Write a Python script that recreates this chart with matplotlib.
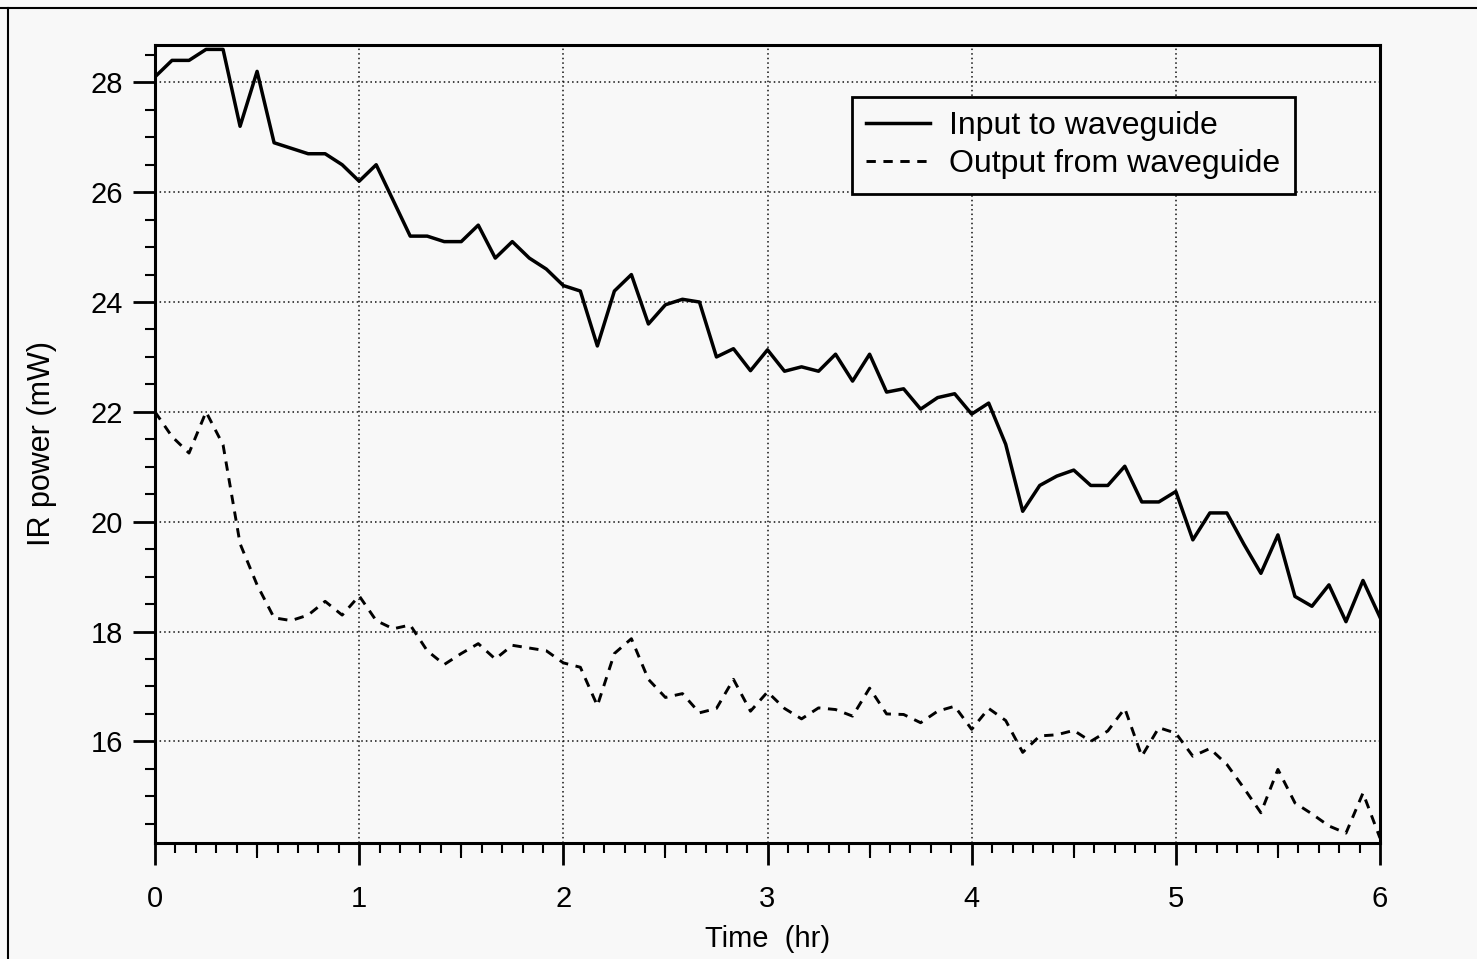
import matplotlib
matplotlib.use("Agg")
import matplotlib.pyplot as plt
from matplotlib.ticker import MultipleLocator
from matplotlib.lines import Line2D

# sample times (minutes), one reading every 5 min
time_min = [0, 5, 10, 15, 20, 25, 30, 35, 40, 45, 50, 55,
            60, 65, 70, 75, 80, 85, 90, 95, 100, 105, 110, 115,
            120, 125, 130, 135, 140, 145, 150, 155, 160, 165, 170, 175,
            180, 185, 190, 195, 200, 205, 210, 215, 220, 225, 230, 235,
            240, 245, 250, 255, 260, 265, 270, 275, 280, 285, 290, 295,
            300, 305, 310, 315, 320, 325, 330, 335, 340, 345, 350, 355,
            360]

input_mw = [28.1, 28.4, 28.4, 28.6, 28.6, 27.2, 28.2, 26.9, 26.8, 26.7, 26.7, 26.5,
            26.2, 26.5, 25.85, 25.2, 25.2, 25.1, 25.1, 25.4, 24.8, 25.1, 24.8, 24.6,
            24.3, 24.2, 23.2, 24.2, 24.5, 23.6, 23.95, 24.05, 24.0, 23.0, 23.15, 22.75,
            23.13, 22.74, 22.82, 22.74, 23.05, 22.56, 23.05, 22.36, 22.42, 22.05, 22.26, 22.33,
            21.96, 22.16, 21.41, 20.19, 20.66, 20.83, 20.94, 20.66, 20.66, 21.01, 20.36, 20.36,
            20.55, 19.67, 20.16, 20.16, 19.59, 19.06, 19.76, 18.64, 18.46, 18.85, 18.18, 18.93,
            18.26]

output_mw = [22.0, 21.55, 21.25, 22.0, 21.4, 19.6, 18.85, 18.25, 18.2, 18.3, 18.55, 18.3,
             18.65, 18.2, 18.05, 18.12, 17.65, 17.4, 17.6, 17.78, 17.5, 17.75, 17.7, 17.65,
             17.43, 17.35, 16.65, 17.6, 17.87, 17.13, 16.8, 16.87, 16.52, 16.6, 17.13, 16.55,
             16.9, 16.6, 16.41, 16.61, 16.58, 16.46, 16.97, 16.5, 16.49, 16.34, 16.55, 16.64,
             16.22, 16.6, 16.38, 15.8, 16.1, 16.12, 16.2, 16.0, 16.19, 16.6, 15.73, 16.25,
             16.15, 15.73, 15.87, 15.58, 15.15, 14.7, 15.49, 14.88, 14.68, 14.46, 14.33, 15.06,
             14.24]

hours = [m / 60 for m in time_min]

plt.rcParams['font.family'] = ['Liberation Sans', 'DejaVu Sans']
bg = '#f8f8f8'

fig = plt.figure(figsize=(14.77, 9.59), dpi=100, facecolor=bg)
ax = fig.add_axes([155 / 1477, 1 - 843 / 959, 1225 / 1477, 798 / 959])
ax.set_facecolor(bg)

ax.plot(hours, input_mw, color='black', lw=2.5, label='Input to waveguide')
ax.plot(hours, output_mw, color='black', lw=2.1, ls=(0, (3.2, 2.6)),
        label='Output from waveguide')

ax.set_xlim(0, 6)
ax.set_ylim(14.15, 28.68)
ax.set_xticks(range(0, 7))
ax.set_yticks(range(16, 29, 2))
ax.xaxis.set_minor_locator(MultipleLocator(0.1))
ax.yaxis.set_minor_locator(MultipleLocator(0.5))
ax.tick_params(which='major', direction='out', length=16, width=2, labelsize=21)
ax.tick_params(which='minor', direction='out', length=7, width=1.5)
ax.tick_params(axis='x', which='major', pad=14)
ax.tick_params(axis='y', which='major', pad=7)

# slightly longer ticks at the half hours
sec = ax.secondary_xaxis('bottom')
sec.set_xticks([h + 0.5 for h in range(6)])
sec.tick_params(length=11, width=1.5, labelbottom=False)
sec.spines['bottom'].set_visible(False)

ax.grid(True, which='major', ls=(0, (1, 2)), color='#111111', lw=1.1)
for s in ax.spines.values():
    s.set_linewidth(2.2)

ax.set_xlabel('Time  (hr)', fontsize=21, labelpad=9)
ax.set_ylabel('IR power (mW)', fontsize=22, labelpad=24)

leg = ax.legend(loc='upper left', bbox_to_anchor=(0.569, 0.935), borderaxespad=0,
                fontsize=23, frameon=True, fancybox=False, framealpha=1,
                facecolor=bg, edgecolor='black', handlelength=2.0,
                handletextpad=0.6, labelspacing=0.25, borderpad=0.45)
leg.get_frame().set_linewidth(2)

# scanned page frame
fig.add_artist(Line2D([0, 1], [1 - 8 / 959] * 2, transform=fig.transFigure,
                      color='black', lw=1.5))
fig.add_artist(Line2D([8 / 1477] * 2, [0, 1 - 8 / 959], transform=fig.transFigure,
                      color='black', lw=1.5))

fig.savefig('out.png', dpi=100, facecolor=bg)
